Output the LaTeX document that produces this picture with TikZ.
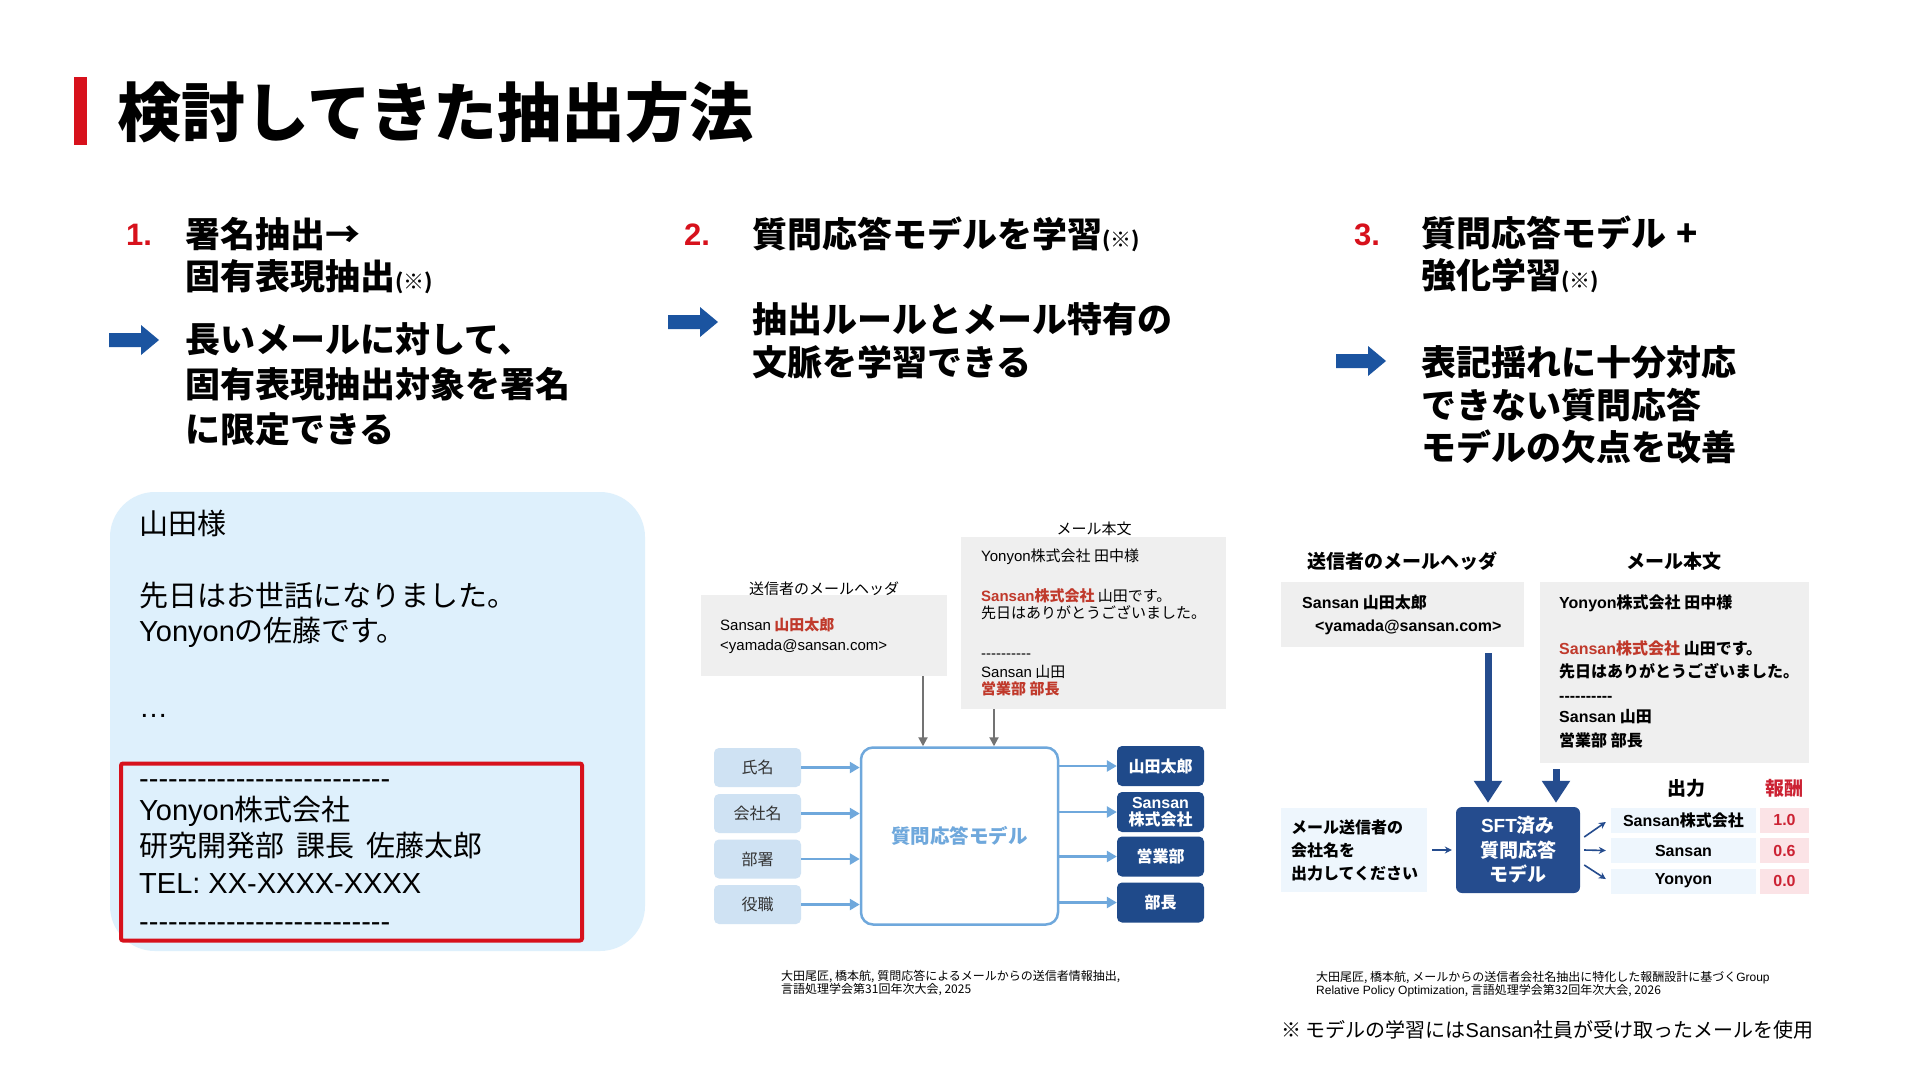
\documentclass[tikz,border=0pt]{standalone}
\usepackage{fontspec}
\setmainfont{Noto Sans CJK JP}
\newfontfamily\la{Liberation Sans}
\usetikzlibrary{arrows.meta,positioning,calc}
\definecolor{Red}{HTML}{D7111C}
\definecolor{Blue}{HTML}{1B54A0}
\definecolor{MailBg}{HTML}{DEF0FC}
\definecolor{BoxGray}{HTML}{EFEFEF}
\definecolor{SoftBlue}{HTML}{CFE2F3}
\definecolor{LineBlue}{HTML}{6FA8DC}
\definecolor{Navy}{HTML}{1F4A8A}
\definecolor{DeepBlue}{HTML}{254C8E}
\definecolor{Pale}{HTML}{EEF6FD}
\definecolor{Pink}{HTML}{FBE3E6}
\definecolor{RwRed}{HTML}{CC2233}
\definecolor{TxtRed}{HTML}{C0392B}
\definecolor{Ink}{HTML}{333333}
\newcommand{\fz}[2]{\fontsize{#1}{#2}\selectfont}
\newcommand{\bigarrow}[2]{\fill[Blue] (#1,#2) ++(0,-7) -- ++(32,0) -- ++(0,-8) -- ++(18,15) -- ++(-18,15) -- ++(0,-8) -- ++(-32,0) -- cycle;}
\tikzset{
  txt/.style={anchor=west,inner sep=0},
  head/.style={txt,align=left,font=\fz{35}{42}\bfseries},
  num/.style={txt,text=Red,font=\la\bfseries\fz{31}{31}},
  mailtxt/.style={txt,font=\fz{29}{36}},
  graybox/.style={fill=BoxGray,inner sep=0},
  lbl/.style={inner sep=0,font=\fz{15}{15}},
  mtxt/.style={txt,font=\fz{15}{15}},
  inbox/.style={fill=SoftBlue,rounded corners=5,minimum width=87,minimum height=39,inner sep=0,text=Ink,font=\fz{16}{16}},
  outbox/.style={fill=Navy,rounded corners=5,minimum width=87,minimum height=40,inner sep=0,text=white,align=center,font=\fz{16}{17}\bfseries},
  inarr/.style={draw=LineBlue,line width=2.5,-{Triangle[width=11pt,length=10pt]}},
  grayarr/.style={draw=black!55,line width=2,-{Triangle[width=9pt,length=9pt]}},
  cite/.style={txt,align=left,font=\fz{12}{13.5}},
  rhead/.style={inner sep=0,font=\fz{19}{19}\bfseries},
  rtxt/.style={txt,font=\fz{16}{16}\bfseries},
  pale/.style={fill=Pale,inner sep=0,font=\fz{16}{16}\bfseries},
  pink/.style={fill=Pink,inner sep=0,text=RwRed,font=\la\fz{16}{16}\bfseries},
  fatarr/.style={draw=DeepBlue,line width=7,shorten <=6,shorten >=4,-{Triangle[width=27pt,length=22pt]}},
  thinarr/.style={draw=DeepBlue,line width=1.6,-{Stealth[width=7pt,length=7pt]}}
}
\begin{document}
\begin{tikzpicture}[x=1pt,y=-1pt]
\fill[white] (0,0) rectangle (1920,1080);
\useasboundingbox (0,0) rectangle (1920,1080);
\fill[Red] (74,77) rectangle (87,145);
\node[txt,font=\fz{64}{70}\bfseries] (title) at (117,112) {検討してきた抽出方法};

\node[num] (n1) at (126,235) {1.};
\node[head] (h1) at (185,256) {署名抽出→\\固有表現抽出{\fz{21}{21}(※)}};
\bigarrow{109}{340}
\node[head,font=\fz{35}{45}\bfseries] (b1) at (185,384) {長いメールに対して、\\固有表現抽出対象を署名\\に限定できる};

\node[num] (n2) at (684,235) {2.};
\node[head] (h2) at (752,234) {質問応答モデルを学習{\fz{21}{21}(※)}};
\bigarrow{668}{322}
\node[head,font=\fz{35}{43}\bfseries] (b2) at (752,341) {抽出ルールとメール特有の\\文脈を学習できる};

\node[num] (n3) at (1354,235) {3.};
\node[head] (h3) at (1421,254) {質問応答モデル\hspace{10pt}+\\強化学習{\fz{21}{21}(※)}};
\bigarrow{1336}{361}
\node[head,font=\fz{35}{42.5}\bfseries] (b3) at (1421,405) {表記揺れに十分対応\\できない質問応答\\モデルの欠点を改善};

\node[fill=MailBg,rounded corners=45,minimum width=535,minimum height=459,inner sep=0] (mail) at (377.5,721.5) {};
\node[mailtxt] (m1) at (139,523) {山田様};
\node[mailtxt] (m2) at (139,596) {先日はお世話になりました。};
\node[mailtxt] (m3) at (139,632) {{\la Yonyon}の佐藤です。};
\node[mailtxt] (m4) at (139,716) {\la …};
\node[draw=Red,line width=4,rounded corners=2,minimum width=461,minimum height=177,inner sep=0] (sig) at (351.5,852) {};
\node[mailtxt] (s1) at (139,784) {\la --------------------------};
\node[mailtxt] (s2) at (139,811) {{\la Yonyon}株式会社};
\node[mailtxt] (s3) at (139,846) {研究開発部\hspace{12pt}課長\hspace{12pt}佐藤太郎};
\node[mailtxt] (s4) at (139,884) {\la TEL: XX-XXXX-XXXX};
\node[mailtxt] (s5) at (139,927) {\la --------------------------};

\node[lbl] (mbl) at (1094,529) {メール本文};
\node[graybox,minimum width=265,minimum height=172] (mbody) at (1093.5,623) {};
\node[lbl] (mhl) at (824,589) {送信者のメールヘッダ};
\node[graybox,minimum width=246,minimum height=81] (mhdr) at (824,635.5) {};
\node[mtxt] (mh1) at (720,625) {{\la Sansan} {\bfseries\color{TxtRed}山田太郎}};
\node[mtxt] (mh2) at (720,647) {\la <yamada@sansan.com>};
\node[mtxt] (mb1) at (981,557) {{\la Yonyon}株式会社 田中様};
\node[mtxt] (mb2) at (981,596) {{\bfseries\color{TxtRed}{\la Sansan}株式会社} 山田です。};
\node[mtxt] (mb3) at (981,613) {先日はありがとうございました。};
\node[mtxt] (mb4) at (981,656) {\la ----------};
\node[mtxt] (mb5) at (981,672) {{\la Sansan} 山田};
\node[mtxt] (mb6) at (981,689) {{\bfseries\color{TxtRed}営業部 部長}};

\node[inbox] (in1) at (757.5,767.5) {氏名};
\node[inbox] (in2) at (757.5,813.5) {会社名};
\node[inbox] (in3) at (757.5,859) {部署};
\node[inbox] (in4) at (757.5,904.5) {役職};
\node[draw=LineBlue,line width=2.5,rounded corners=12,fill=white,minimum width=197,minimum height=177,inner sep=0,text=LineBlue,font=\fz{19.5}{19.5}\bfseries] (qa) at (959.5,836) {質問応答モデル};
\node[outbox] (o1) at (1160.5,766) {山田太郎};
\node[outbox] (o2) at (1160.5,812) {{\la Sansan}\\株式会社};
\node[outbox] (o3) at (1160.5,856.5) {営業部};
\node[outbox] (o4) at (1160.5,902.5) {部長};
\foreach \i in {1,...,4} {
  \draw[inarr] (in\i.east) -- (in\i.east -| qa.west);
  \draw[inarr] (o\i.west -| qa.east) -- (o\i.west);
}
\coordinate (ga) at (923,0);
\coordinate (gb) at (994,0);
\draw[grayarr] (mhdr.south -| ga) -- (qa.north -| ga);
\draw[grayarr] (mbody.south -| gb) -- (qa.north -| gb);
\node[cite] (c1) at (781,983) {大田尾匠, 橋本航, 質問応答によるメールからの送信者情報抽出,\\言語処理学会第31回年次大会, 2025};

\node[rhead] (rhl) at (1402,561) {送信者のメールヘッダ};
\node[rhead] (rbl) at (1674,561) {メール本文};
\node[graybox,minimum width=243,minimum height=65] (rhdr) at (1402.5,614.5) {};
\node[rtxt] (rh1) at (1302,602) {{\la Sansan} 山田太郎};
\node[rtxt] (rh2) at (1315,627) {\la <yamada@sansan.com>};
\node[graybox,minimum width=269,minimum height=181] (rbody) at (1674.5,672.5) {};
\node[rtxt] (rb1) at (1559,603) {{\la Yonyon}株式会社 田中様};
\node[rtxt] (rb2) at (1559,648) {{\color{TxtRed}{\la Sansan}株式会社} 山田です。};
\node[rtxt] (rb3) at (1559,671) {先日はありがとうございました。};
\node[rtxt] (rb4) at (1559,699) {\la ----------};
\node[rtxt] (rb5) at (1559,717) {{\la Sansan} 山田};
\node[rtxt] (rb6) at (1559,740) {営業部 部長};

\node[pale,text width=126,align=left,inner xsep=10,minimum height=84,font=\fz{16}{23}\bfseries] (ask) at (1354,850) {メール送信者の\\会社名を\\出力してください};
\node[fill=DeepBlue,rounded corners=6,minimum width=124,minimum height=86,inner sep=0,text=white,align=center,font=\fz{19}{24.5}\bfseries] (sft) at (1518,850) {{\la SFT}済み\\質問応答\\モデル};
\coordinate (ra) at (1488,0);
\coordinate (rb) at (1556,0);
\draw[fatarr] (rhdr.south -| ra) -- (sft.north -| ra);
\draw[fatarr] (rbody.south -| rb) -- (sft.north -| rb);
\draw[thinarr,shorten <=5,shorten >=4] (ask.east) -- (sft.west);
\node[rhead] (outl) at (1686,788) {出力};
\node[rhead,text=RwRed] (rwl) at (1784,788) {報酬};
\node[pale,minimum width=145,minimum height=25] (ro1) at (1683.5,820) {{\la Sansan}株式会社};
\node[pale,minimum width=145,minimum height=25] (ro2) at (1683.5,850.5) {\la Sansan};
\node[pale,minimum width=145,minimum height=25] (ro3) at (1683.5,881) {\la Yonyon};
\node[pink,minimum width=49,minimum height=25] (rw1) at (1784.5,820) {1.0};
\node[pink,minimum width=49,minimum height=25] (rw2) at (1784.5,850.5) {0.6};
\node[pink,minimum width=49,minimum height=25] (rw3) at (1784.5,881) {0.0};
\draw[thinarr] ($(sft.east)+(4,-13)$) -- ($(ro1.west)+(-5,2)$);
\draw[thinarr] ($(sft.east)+(4,0)$) -- ($(ro2.west)+(-5,0)$);
\draw[thinarr] ($(sft.east)+(4,15)$) -- ($(ro3.west)+(-5,-2)$);
\node[cite] (c2) at (1316,984) {大田尾匠, 橋本航, メールからの送信者会社名抽出に特化した報酬設計に基づく{\la Group}\\{\la Relative Policy Optimization}, 言語処理学会第32回年次大会, 2026};
\node[txt,font=\fz{20}{20}] (note) at (1281,1030) {※ モデルの学習には{\la Sansan}社員が受け取ったメールを使用};
\end{tikzpicture}
\end{document}
